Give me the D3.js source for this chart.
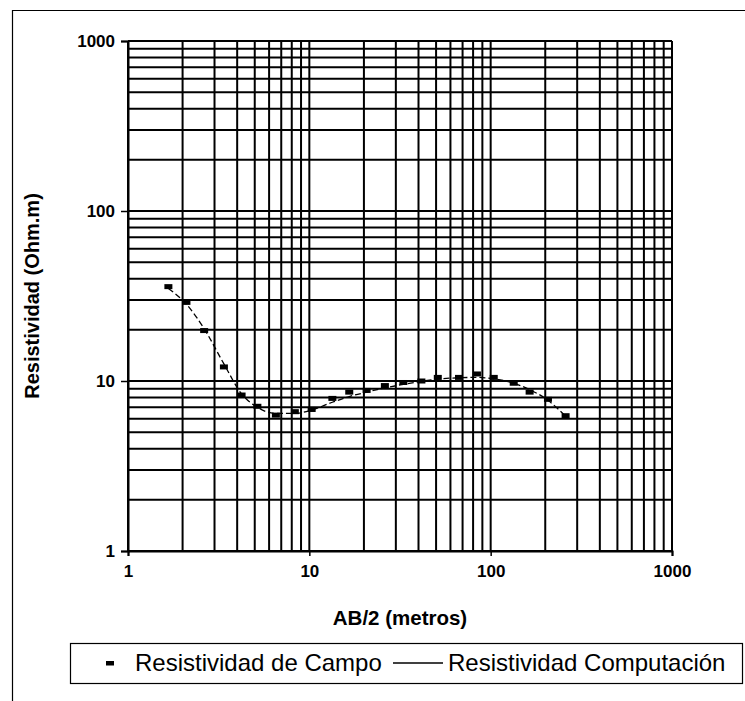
<!DOCTYPE html>
<html><head><meta charset="utf-8">
<script src="https://cdn.jsdelivr.net/npm/d3@7"></script>
<style>
html,body{margin:0;padding:0;background:#fff;}
svg{display:block;font-family:Arial,"Liberation Sans",sans-serif;}
</style></head>
<body>
<svg id="c" width="745" height="701"></svg>
<script>
// AB/2 (m) for field points
const abHalf = [1.67, 2.1, 2.63, 3.38, 4.23, 5.17, 6.54, 8.32, 10.3, 13.4, 16.6, 20.7, 26.1, 33.0, 41.5, 51.1, 66.9, 84.0, 104, 134, 164, 207, 259];
// field apparent resistivity (Ohm.m)
const rhoCampo = [35.9, 29.0, 19.8, 12.1, 8.27, 7.1, 6.3, 6.6, 6.8, 7.9, 8.6, 8.8, 9.4, 9.8, 10.0, 10.5, 10.5, 11.0, 10.5, 9.7, 8.6, 7.8, 6.25];
// computed resistivity curve
const rhoComp = [35.0, 28.3, 20.3, 12.6, 8.4, 7.0, 6.45, 6.45, 6.75, 7.5, 8.1, 8.6, 9.1, 9.55, 9.95, 10.25, 10.45, 10.5, 10.3, 9.7, 8.9, 7.7, 6.2];
const xTicks = [1, 10, 100, 1000];
const yTicks = [1, 10, 100, 1000];
const xTitle = "AB/2 (metros)";
const yTitle = "Resistividad (Ohm.m)";
const legendLabels = ["Resistividad de Campo", "Resistividad Computación"];

const svg = d3.select("#c");
const L = 128, R = 672, T = 41, B = 551;
const x = d3.scaleLog().domain([1, 1000]).range([L, R]);
const y = d3.scaleLog().domain([1, 1000]).range([B, T]);

// outer frame
svg.append("path").attr("d", `M12.5,701 V10.5 H745`).attr("fill","none").attr("stroke","#000").attr("stroke-width",1.2);

// grid values
const gridVals = [];
[1,10,100].forEach(d => { for (let k=1;k<=10;k++) gridVals.push(d*k); });
const gv = Array.from(new Set(gridVals));

const g = svg.append("g");
g.selectAll("line.v").data(gv).enter().append("line")
  .attr("x1", d=>x(d)).attr("x2", d=>x(d)).attr("y1", T).attr("y2", B)
  .attr("stroke","#000").attr("stroke-width",2);
g.selectAll("line.h").data(gv).enter().append("line")
  .attr("y1", d=>y(d)).attr("y2", d=>y(d)).attr("x1", L).attr("x2", R)
  .attr("stroke","#000").attr("stroke-width",2);

// axes
const yAxis = d3.axisLeft(y).tickValues(yTicks).tickFormat(d3.format("d")).tickSize(7).tickPadding(6);
const ya = svg.append("g").attr("transform",`translate(${L},0)`).call(yAxis);
const xAxis = d3.axisBottom(x).tickValues(xTicks).tickFormat(d3.format("d")).tickSize(5).tickPadding(9);
const xa = svg.append("g").attr("transform",`translate(0,${B})`).call(xAxis);
[ya, xa].forEach(a => {
  a.select(".domain").attr("stroke","#000").attr("stroke-width",2);
  a.selectAll(".tick line").attr("stroke","#000").attr("stroke-width",1.5);
  a.selectAll("text").attr("font-size",17).attr("font-weight","bold").attr("fill","#000")
   .attr("font-family","Arial, 'Liberation Sans', sans-serif");
});

// titles
svg.append("text").attr("x", (L+R)/2).attr("y", 625).attr("text-anchor","middle")
  .attr("font-size",20.5).attr("font-weight","bold").text(xTitle);
svg.append("text").attr("transform",`translate(39,${(T+B)/2}) rotate(-90)`).attr("text-anchor","middle")
  .attr("font-size",20).attr("font-weight","bold").text(yTitle);

// computed curve
const pts = abHalf.map((a,i)=>({a, r: rhoComp[i]}));
svg.append("path").datum(pts)
  .attr("d", d3.line().x(d=>x(d.a)).y(d=>y(d.r)).curve(d3.curveMonotoneX))
  .attr("fill","none").attr("stroke","#000").attr("stroke-width",1.3).attr("stroke-dasharray","6,3");

// field markers
svg.selectAll("rect.m").data(abHalf.map((a,i)=>({a, r: rhoCampo[i]}))).enter().append("rect")
  .attr("x", d=>x(d.a)-4).attr("y", d=>y(d.r)-2.5).attr("width",8).attr("height",5).attr("fill","#000");

// legend
const lg = svg.append("g");
lg.append("rect").attr("x",70.5).attr("y",643.5).attr("width",672).attr("height",40)
  .attr("fill","#fff").attr("stroke","#000").attr("stroke-width",1.2);
lg.append("rect").attr("x",106).attr("y",661).attr("width",8).attr("height",4.5).attr("fill","#000");
lg.append("text").attr("x",135).attr("y",671).attr("font-size",24).text(legendLabels[0]);
lg.append("line").attr("x1",393).attr("x2",443).attr("y1",663).attr("y2",663).attr("stroke","#000").attr("stroke-width",1.3);
lg.append("text").attr("x",448).attr("y",671).attr("font-size",24).text(legendLabels[1]);
</script>
</body></html>
